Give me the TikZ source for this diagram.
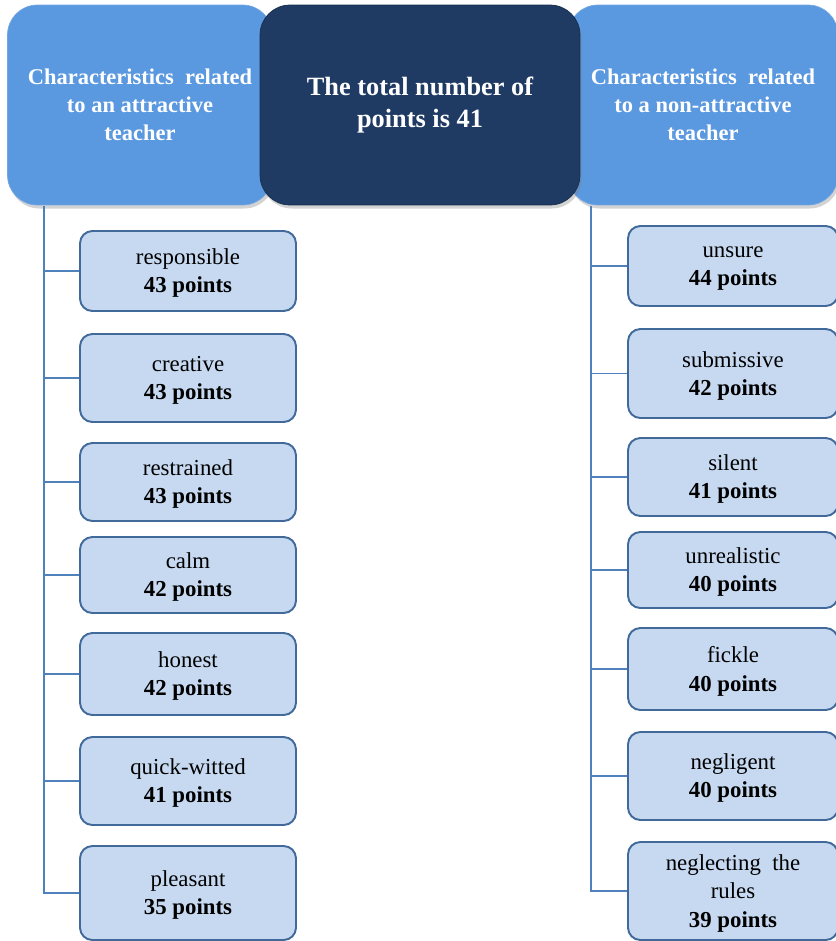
\documentclass[tikz,border=0pt]{standalone}
\usepackage{fontspec}
\setmainfont{Liberation Serif}
\usetikzlibrary{shadows}

\definecolor{headblue}{HTML}{5A98DF}
\definecolor{headdark}{HTML}{1F3B63}
\definecolor{itemfill}{HTML}{C6D9F1}
\definecolor{itemline}{HTML}{41699A}
\definecolor{linkblue}{HTML}{4F81BD}

\tikzset{
    headbox/.style={rounded corners=17pt, fill=headblue, draw=headblue!85!white,
        text=white, font=\fontsize{12.8}{16}\selectfont\bfseries, align=center,
        minimum height=4cm, drop shadow={opacity=0.35, shadow xshift=1pt, shadow yshift=-2pt}},
    topbox/.style={headbox, fill=headdark, draw=headdark!80!black,
        font=\fontsize{15}{18}\selectfont\bfseries},
    itembox/.style={rounded corners=7pt, fill=itemfill, draw=itemline, line width=1.1pt,
        align=center, font=\fontsize{13}{16}\selectfont, text depth=0pt},
    link/.style={draw=linkblue, line width=0.6pt}
}

\begin{document}
\begin{tikzpicture}[x=0.02cm, y=-0.02cm]

\useasboundingbox (0,0) rectangle (836,941);

% headers
\node[headbox, minimum width=5.3cm] (H_L) at (140,105) {Characteristics~ related\\to an attractive\\teacher};
\node[headbox, minimum width=5.4cm] (H_R) at (703,105) {Characteristics~ related\\to a non-attractive\\teacher};
\node[topbox, minimum width=6.4cm] (H_T) at (420,105) {The total number of\\points is 41};

% attractive side
\node[itembox, minimum width=4.32cm, minimum height=1.6cm] (A1) at (188,271) {responsible\\\textbf{43 points}};
\node[itembox, minimum width=4.32cm, minimum height=1.76cm] (A2) at (188,378) {creative\\\textbf{43 points}};
\node[itembox, minimum width=4.32cm, minimum height=1.56cm] (A3) at (188,482) {restrained\\\textbf{43 points}};
\node[itembox, minimum width=4.32cm, minimum height=1.52cm] (A4) at (188,575) {calm\\\textbf{42 points}};
\node[itembox, minimum width=4.32cm, minimum height=1.64cm] (A5) at (188,674) {honest\\\textbf{42 points}};
\node[itembox, minimum width=4.32cm, minimum height=1.76cm] (A6) at (188,781) {quick-witted\\\textbf{41 points}};
\node[itembox, minimum width=4.32cm, minimum height=1.88cm] (A7) at (188,893) {pleasant\\\textbf{35 points}};

% non-attractive side
\node[itembox, minimum width=4.2cm, minimum height=1.6cm] (N1) at (733,266) {unsure\\\textbf{44 points}};
\node[itembox, minimum width=4.2cm, minimum height=1.78cm] (N2) at (733,373.5) {submissive\\\textbf{42 points}};
\node[itembox, minimum width=4.2cm, minimum height=1.56cm] (N3) at (733,477) {silent\\\textbf{41 points}};
\node[itembox, minimum width=4.2cm, minimum height=1.52cm] (N4) at (733,570) {unrealistic\\\textbf{40 points}};
\node[itembox, minimum width=4.2cm, minimum height=1.64cm] (N5) at (733,669) {fickle\\\textbf{40 points}};
\node[itembox, minimum width=4.2cm, minimum height=1.76cm] (N6) at (733,776) {negligent\\\textbf{40 points}};
\node[itembox, minimum width=4.2cm, minimum height=1.96cm] (N7) at (733,891) {neglecting~ the\\rules\\\textbf{39 points}};

\coordinate (L_trunk) at (44,206);
\coordinate (R_trunk) at (591,206);

\foreach \n in {A1,A2,A3,A4,A5,A6,A7}
    \draw[link] (L_trunk) |- (\n.west);
\foreach \n in {N1,N2,N3,N4,N5,N6,N7}
    \draw[link] (R_trunk) |- (\n.west);

\end{tikzpicture}
\end{document}
